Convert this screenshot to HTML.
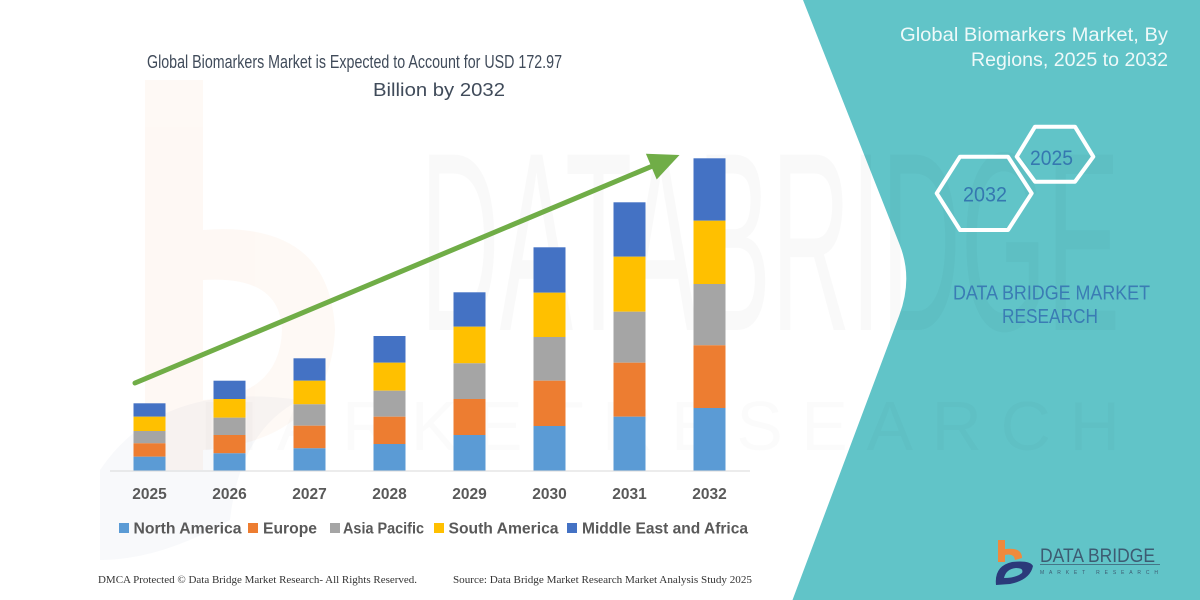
<!DOCTYPE html>
<html>
<head>
<meta charset="utf-8">
<style>
html,body{margin:0;padding:0;background:#fff;}
body{width:1200px;height:600px;overflow:hidden;}
svg{display:block;}
text{font-family:"Liberation Sans",sans-serif;}
</style>
</head>
<body>
<svg width="1200" height="600" viewBox="0 0 1200 600" xmlns="http://www.w3.org/2000/svg">
  <rect x="0" y="0" width="1200" height="600" fill="#ffffff"/>

  <!-- faint watermark "b" logo on left -->
  <g opacity="0.05">
    <rect x="145" y="80" width="58" height="390" fill="#f08a3c"/>
    <path d="M203 230 Q330 220 335 330 Q330 440 203 450 L203 400 Q280 395 282 330 Q280 275 203 280 Z" fill="#f08a3c"/>
  </g>
  <g opacity="0.03">
    <path d="M100 470 Q160 380 300 400 Q240 430 230 520 Q160 560 100 560 Z" fill="#2b4a8a"/>
  </g>

  <!-- teal right panel -->
  <path d="M803 0 L899.8 245 Q913 278.6 899.4 315 L792.5 600 L1200 600 L1200 0 Z" fill="#61c4c8"/>

  <!-- faint big watermark text -->
  <text x="420" y="330" font-size="255" fill="#000" opacity="0.018" textLength="700" lengthAdjust="spacingAndGlyphs">DATABRIDGE</text>
  <text x="200" y="450" font-size="70" fill="#000" opacity="0.012" textLength="920" lengthAdjust="spacing">MARKETRESEARCH</text>

  <!-- main title -->
  <text x="147" y="68" font-size="18.5" fill="#404b5a" textLength="415" lengthAdjust="spacingAndGlyphs">Global Biomarkers Market is Expected to Account for USD 172.97</text>
  <text x="373" y="96" font-size="18.5" fill="#404b5a" textLength="132" lengthAdjust="spacingAndGlyphs">Billion by 2032</text>

  <!-- axis line -->
  <line x1="110" y1="471" x2="750" y2="471" stroke="#d9d9d9" stroke-width="1"/>

  <!-- bars -->
  <g id="bars">
    <!-- 2025 -->
    <rect x="133.5" y="403.3" width="32" height="13.4" fill="#4472c4"/>
    <rect x="133.5" y="416.7" width="32" height="14.3" fill="#ffc000"/>
    <rect x="133.5" y="431" width="32" height="12.3" fill="#a5a5a5"/>
    <rect x="133.5" y="443.3" width="32" height="13.4" fill="#ed7d31"/>
    <rect x="133.5" y="456.7" width="32" height="13.8" fill="#5b9bd5"/>
    <!-- 2026 -->
    <rect x="213.5" y="380.7" width="32" height="18.3" fill="#4472c4"/>
    <rect x="213.5" y="399" width="32" height="18.7" fill="#ffc000"/>
    <rect x="213.5" y="417.7" width="32" height="17.3" fill="#a5a5a5"/>
    <rect x="213.5" y="435" width="32" height="18.3" fill="#ed7d31"/>
    <rect x="213.5" y="453.3" width="32" height="17.2" fill="#5b9bd5"/>
    <!-- 2027 -->
    <rect x="293.5" y="358.3" width="32" height="22.4" fill="#4472c4"/>
    <rect x="293.5" y="380.7" width="32" height="23.6" fill="#ffc000"/>
    <rect x="293.5" y="404.3" width="32" height="21.4" fill="#a5a5a5"/>
    <rect x="293.5" y="425.7" width="32" height="22.6" fill="#ed7d31"/>
    <rect x="293.5" y="448.3" width="32" height="22.2" fill="#5b9bd5"/>
    <!-- 2028 -->
    <rect x="373.5" y="336" width="32" height="26.7" fill="#4472c4"/>
    <rect x="373.5" y="362.7" width="32" height="28" fill="#ffc000"/>
    <rect x="373.5" y="390.7" width="32" height="26" fill="#a5a5a5"/>
    <rect x="373.5" y="416.7" width="32" height="27.3" fill="#ed7d31"/>
    <rect x="373.5" y="444" width="32" height="26.5" fill="#5b9bd5"/>
    <!-- 2029 -->
    <rect x="453.5" y="292.3" width="32" height="34.4" fill="#4472c4"/>
    <rect x="453.5" y="326.7" width="32" height="36.6" fill="#ffc000"/>
    <rect x="453.5" y="363.3" width="32" height="35.7" fill="#a5a5a5"/>
    <rect x="453.5" y="399" width="32" height="36" fill="#ed7d31"/>
    <rect x="453.5" y="435" width="32" height="35.5" fill="#5b9bd5"/>
    <!-- 2030 -->
    <rect x="533.5" y="247.3" width="32" height="45.4" fill="#4472c4"/>
    <rect x="533.5" y="292.7" width="32" height="44.3" fill="#ffc000"/>
    <rect x="533.5" y="337" width="32" height="43.7" fill="#a5a5a5"/>
    <rect x="533.5" y="380.7" width="32" height="45.3" fill="#ed7d31"/>
    <rect x="533.5" y="426" width="32" height="44.5" fill="#5b9bd5"/>
    <!-- 2031 -->
    <rect x="613.5" y="202.3" width="32" height="54.4" fill="#4472c4"/>
    <rect x="613.5" y="256.7" width="32" height="55" fill="#ffc000"/>
    <rect x="613.5" y="311.7" width="32" height="51" fill="#a5a5a5"/>
    <rect x="613.5" y="362.7" width="32" height="54" fill="#ed7d31"/>
    <rect x="613.5" y="416.7" width="32" height="53.8" fill="#5b9bd5"/>
    <!-- 2032 -->
    <rect x="693.5" y="158.3" width="32" height="62.4" fill="#4472c4"/>
    <rect x="693.5" y="220.7" width="32" height="63.3" fill="#ffc000"/>
    <rect x="693.5" y="284" width="32" height="61.3" fill="#a5a5a5"/>
    <rect x="693.5" y="345.3" width="32" height="62.7" fill="#ed7d31"/>
    <rect x="693.5" y="408" width="32" height="62.5" fill="#5b9bd5"/>
  </g>

  <!-- green arrow -->
  <line x1="135" y1="383" x2="655" y2="165" stroke="#70ad47" stroke-width="5" stroke-linecap="round"/>
  <polygon points="679.5,155 645.9,153.7 656.7,179.5" fill="#70ad47"/>

  <!-- year labels -->
  <g font-size="15.5" font-weight="bold" fill="#595959" text-anchor="middle">
    <text x="149.5" y="499">2025</text>
    <text x="229.5" y="499">2026</text>
    <text x="309.5" y="499">2027</text>
    <text x="389.5" y="499">2028</text>
    <text x="469.5" y="499">2029</text>
    <text x="549.5" y="499">2030</text>
    <text x="629.5" y="499">2031</text>
    <text x="709.5" y="499">2032</text>
  </g>

  <!-- legend -->
  <g font-size="15.5" font-weight="bold" fill="#595959">
    <rect x="119" y="523" width="10" height="10" fill="#5b9bd5"/>
    <text x="133.5" y="533.5" textLength="108" lengthAdjust="spacingAndGlyphs">North America</text>
    <rect x="248" y="523" width="10" height="10" fill="#ed7d31"/>
    <text x="263" y="533.5" textLength="54" lengthAdjust="spacingAndGlyphs">Europe</text>
    <rect x="330" y="523" width="10" height="10" fill="#a5a5a5"/>
    <text x="343" y="533.5" textLength="81" lengthAdjust="spacingAndGlyphs">Asia Pacific</text>
    <rect x="434" y="523" width="10" height="10" fill="#ffc000"/>
    <text x="448.5" y="533.5" textLength="110" lengthAdjust="spacingAndGlyphs">South America</text>
    <rect x="567" y="523" width="10" height="10" fill="#4472c4"/>
    <text x="582" y="533.5" textLength="166" lengthAdjust="spacingAndGlyphs">Middle East and Africa</text>
  </g>

  <!-- footer -->
  <g font-size="11" fill="#333">
    <text x="98" y="583" style="font-family:'Liberation Serif',serif" textLength="319" lengthAdjust="spacingAndGlyphs">DMCA Protected © Data Bridge Market Research- All Rights Reserved.</text>
    <text x="453" y="583" style="font-family:'Liberation Serif',serif" textLength="299" lengthAdjust="spacingAndGlyphs">Source: Data Bridge Market Research Market Analysis Study 2025</text>
  </g>

  <!-- right panel title -->
  <g font-size="19" fill="#eef9f9" text-anchor="end">
    <text x="1168" y="41" textLength="268" lengthAdjust="spacingAndGlyphs">Global Biomarkers Market, By</text>
    <text x="1168" y="66" textLength="197" lengthAdjust="spacingAndGlyphs">Regions, 2025 to 2032</text>
  </g>

  <!-- hexagons -->
  <g fill="none" stroke="#ffffff" stroke-width="4" stroke-linejoin="round">
    <polygon points="936.7,193.3 960,156.7 1008,156.7 1031.7,193.3 1008,230 960,230"/>
    <polygon points="1016.7,156.7 1035,126.7 1075,126.7 1093.3,156.7 1075,181.7 1035,181.7"/>
  </g>
  <g font-size="21" fill="#3578b0">
    <text x="963" y="201.5" textLength="44" lengthAdjust="spacingAndGlyphs">2032</text>
    <text x="1030" y="165" textLength="43" lengthAdjust="spacingAndGlyphs">2025</text>
  </g>

  <!-- DATA BRIDGE MARKET RESEARCH -->
  <g font-size="20" fill="#3a7cb4">
    <text x="953" y="299.5" textLength="197" lengthAdjust="spacingAndGlyphs">DATA BRIDGE MARKET</text>
    <text x="1002" y="323" textLength="96" lengthAdjust="spacingAndGlyphs">RESEARCH</text>
  </g>

  <!-- bottom-right logo -->
  <g>
    <rect x="998" y="540" width="7" height="22" fill="#f08a3c"/>
    <path d="M1005 549 Q1022 547 1022 558 L1015 560 Q1014 553 1005 555 Z" fill="#f08a3c"/>
    <path d="M996 585 Q994 566 1012 562 Q1030 560 1033 566 Q1030 580 1010 584 Z" fill="#2b3a7a"/>
    <path d="M1004 578 Q1006 569 1016 568 Q1024 568 1022 573 Q1016 578 1004 578 Z" fill="#61c4c8"/>
    <text x="1040" y="562" font-size="19" fill="#3d5b72" textLength="115" lengthAdjust="spacingAndGlyphs">DATA BRIDGE</text>
    <line x1="1040" y1="564.5" x2="1160" y2="564.5" stroke="#3d5b72" stroke-width="0.8"/>
    <text x="1040" y="574" font-size="5" fill="#3d5b72" textLength="118" lengthAdjust="spacing">MARKET  RESEARCH</text>
  </g>
</svg>
</body>
</html>
